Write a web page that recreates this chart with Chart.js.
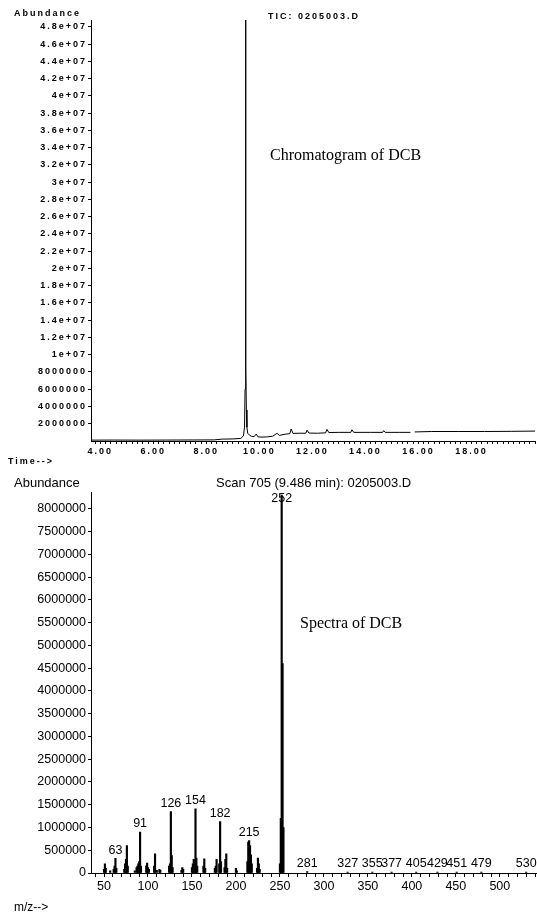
<!DOCTYPE html>
<html>
<head>
<meta charset="utf-8">
<script src="https://cdn.jsdelivr.net/npm/chart.js@4"></script>
<style>
body { margin: 0; background: #fff; }
#wrap { position: relative; width: 537px; height: 915px; overflow: hidden; }
canvas { position: absolute; left: 0; }
.t { position: absolute; white-space: nowrap; color: #000; }
.dot { font: bold 9px "Liberation Sans", Arial, sans-serif; letter-spacing: 2px; line-height: 10px; }
.reg { font: 13px "Liberation Sans", Arial, sans-serif; line-height: 16px; }
.serif { font: 16px "Liberation Serif", "Times New Roman", serif; line-height: 18px; }
</style>
</head>
<body>
<div id="wrap">
  <canvas id="chromChart" width="537" height="470" style="top:0"></canvas>
  <canvas id="specChart" width="537" height="445" style="top:470px"></canvas>

  <div class="t dot" style="left:14px;top:8px">Abundance</div>
  <div class="t dot" style="left:268px;top:11px">TIC: 0205003.D</div>
  <div class="t serif" style="left:270px;top:146px">Chromatogram of DCB</div>
  <div class="t dot" style="left:8px;top:456px">Time--&gt;</div>

  <div class="t reg" style="left:14px;top:475px">Abundance</div>
  <div class="t reg" style="left:216px;top:475px">Scan 705 (9.486 min): 0205003.D</div>
  <div class="t serif" style="left:300px;top:614px">Spectra of DCB</div>
  <div class="t reg" style="left:14px;top:899px;font-size:12px">m/z--&gt;</div>
</div>

<script>
// Chromatogram (TIC) - time in minutes, abundance
const chromTime = [3.65, 4.5, 5.5, 6.5, 7.5, 8.3, 8.6, 9.0, 9.3, 9.40, 9.44, 9.46, 9.475, 9.486,
    9.495, 9.51, 9.53, 9.56, 9.62, 9.7, 9.8, 9.88, 9.95, 10.1, 10.3, 10.5, 10.67, 10.75, 11.0,
    11.15, 11.2, 11.27, 11.5, 11.75, 11.8, 11.87, 12.2, 12.5, 12.55, 12.62, 13.0, 13.45, 13.49,
    13.56, 14.2, 14.65, 14.69, 14.75, 15.3, 15.7, 15.78, 15.86, 16.5, 17.5, 18.5, 19.5, 20.41];
const chromAbund = [1.0e5, 1.1e5, 1.0e5, 1.1e5, 1.2e5, 1.3e5, 2.2e5, 2.4e5, 3.0e5, 6.0e5, 1.6e6, 6.0e6, 1.6e7, 4.88e7,
    8.6e6, 3.6e6, 1.6e6, 9.0e5, 7.0e5, 5.5e5, 5.0e5, 8.0e5, 4.8e5, 4.5e5, 4.8e5, 5.5e5, 9.0e5, 6.5e5, 8.0e5,
    8.5e5, 1.4e6, 8.8e5, 9.0e5, 9.0e5, 1.25e6, 9.2e5, 9.0e5, 9.5e5, 1.35e6, 9.8e5, 1.0e6, 1.0e6, 1.3e6,
    1.0e6, 1.0e6, 1.0e6, 1.2e6, 1.0e6, 1.0e6, 1.0e6, null, 1.05e6, 1.1e6, 1.1e6, 1.1e6, 1.12e6, 1.15e6];
const chromLabelTimes = [4, 6, 8, 10, 12, 14, 16, 18];
const chromYTicks = [2e6, 4e6, 6e6, 8e6, 1e7, 1.2e7, 1.4e7, 1.6e7, 1.8e7, 2e7, 2.2e7, 2.4e7, 2.6e7,
    2.8e7, 3e7, 3.2e7, 3.4e7, 3.6e7, 3.8e7, 4e7, 4.2e7, 4.4e7, 4.6e7, 4.8e7];

// Mass spectrum, scan 705
const mzValues = [50, 51, 52, 57, 61, 62, 63, 64, 73, 74, 75, 76, 77, 85, 87, 88, 89, 90, 91, 92,
    98, 99, 100, 101, 107, 108, 110, 113, 114, 124, 125, 126, 127, 128, 138, 139, 140,
    150, 151, 152, 153, 154, 155, 156, 163, 164, 165, 176, 177, 178, 181, 182, 183,
    187, 188, 189, 190, 200, 201, 213, 214, 215, 216, 217, 218, 224, 225, 226, 227,
    250, 251, 252, 253, 254, 281, 327, 355, 377, 405, 429, 451, 479, 530];
const mzAbund = [8e4, 2.0e5, 1.0e5, 5e4, 8e4, 1.5e5, 3.2e5, 1.0e5, 8e4, 2.0e5, 3.0e5, 6.0e5, 1.5e5, 5e4, 1.2e5, 1.5e5, 2.0e5, 2.5e5, 9.0e5, 1.5e5,
    1.6e5, 2.2e5, 1.2e5, 8e4, 1.5e5, 4.2e5, 6e4, 8e4, 6e4, 1.5e5, 2.0e5, 1.35e6, 3.8e5, 1.2e5, 6e4, 1.2e5, 8e4,
    1.2e5, 2.0e5, 3.0e5, 2.8e5, 1.41e6, 3.3e5, 1.5e5, 1.5e5, 3.1e5, 1.0e5, 1.0e5, 1.5e5, 3.0e5, 2.0e5, 1.13e6, 2.5e5,
    1.2e5, 3.0e5, 4.2e5, 1.0e5, 1.0e5, 5e4, 2.5e5, 6.8e5, 7.1e5, 6.0e5, 4.0e5, 2.0e5, 1.0e5, 3.3e5, 2.0e5, 8e4,
    2.0e5, 1.2e6, 8.3e6, 4.6e6, 1.0e6, 3e4, 2e4, 2e4, 2e4, 2e4, 2e4, 2e4, 2e4, 2e4];
const peakLabels = [63, 91, 126, 154, 182, 215, 252, 281, 327, 355, 377, 405, 429, 451, 479, 530];
const mzLabelValues = [50, 100, 150, 200, 250, 300, 350, 400, 450, 500];
const specYTicks = [0, 5e5, 1e6, 1.5e6, 2e6, 2.5e6, 3e6, 3.5e6, 4e6, 4.5e6, 5e6, 5.5e6, 6e6,
    6.5e6, 7e6, 7.5e6, 8e6];

const smallFont = { family: "'Liberation Sans', Arial, sans-serif", size: 9, weight: 'bold' };
const specFont = { family: "'Liberation Sans', Arial, sans-serif", size: 12.5 };

// minor tick positions (every 0.2 min / every 10 m/z)
function stepTicks(from, to, step) {
    const out = [];
    for (let v = from; v <= to + 1e-9; v += step) out.push({ value: Math.round(v * 100) / 100 });
    return out;
}

// old plotter look: spaced-out letters on the top chart
const spacedText = {
    id: 'spacedText',
    beforeDraw(chart) { chart.ctx.letterSpacing = '2px'; },
    afterDraw(chart) { chart.ctx.letterSpacing = '0px'; }
};

function expLabel(v) {
    if (v >= 1e7) {
        return String(+(v / 1e7).toFixed(1)) + 'e+07';
    }
    return String(v);
}

new Chart(document.getElementById('chromChart'), {
    type: 'line',
    data: {
        datasets: [{
            data: chromTime.map((t, i) => ({ x: t, y: chromAbund[i] })),
            borderColor: '#000',
            borderWidth: 1,
            pointRadius: 0,
            tension: 0,
            spanGaps: false
        }]
    },
    options: {
        responsive: false,
        animation: false,
        layout: { padding: { top: 20, left: 0, right: 0, bottom: 0 } },
        plugins: { legend: { display: false }, tooltip: { enabled: false } },
        scales: {
            x: {
                type: 'linear',
                min: 3.647,
                max: 20.41,
                afterBuildTicks: s => { s.ticks = stepTicks(3.8, 20.4, 0.2); },
                afterFit: s => { s.height = 29; },
                border: { color: '#000', width: 1 },
                grid: { drawOnChartArea: false, tickLength: 3, tickColor: '#000' },
                ticks: {
                    autoSkip: false,
                    maxRotation: 0,
                    padding: 2,
                    color: '#000',
                    font: smallFont,
                    callback: v => {
                        const t = Math.round(v * 10) / 10;
                        return chromLabelTimes.includes(t) ? t.toFixed(2) : '';
                    }
                }
            },
            y: {
                min: 0,
                max: 4.88e7,
                afterBuildTicks: s => { s.ticks = chromYTicks.map(v => ({ value: v })); },
                afterFit: s => { s.width = 91; },
                border: { color: '#000', width: 1 },
                grid: { drawOnChartArea: false, tickLength: 3, tickColor: '#000' },
                ticks: {
                    autoSkip: false,
                    padding: 1,
                    color: '#000',
                    font: smallFont,
                    callback: v => expLabel(v)
                }
            }
        }
    },
    plugins: [spacedText]
});

// peak m/z labels above the bars
const peakLabelPlugin = {
    id: 'peakLabels',
    afterDatasetsDraw(chart) {
        const ctx = chart.ctx;
        const xs = chart.scales.x, ys = chart.scales.y;
        ctx.save();
        ctx.fillStyle = '#000';
        ctx.font = "12.5px 'Liberation Sans', Arial, sans-serif";
        ctx.textAlign = 'center';
        ctx.textBaseline = 'bottom';
        peakLabels.forEach(m => {
            const i = mzValues.indexOf(m);
            const x = xs.getPixelForValue(m);
            let y = ys.getPixelForValue(mzAbund[i]) - 2;
            y = Math.max(y, chart.chartArea.top + 13);
            ctx.fillText(String(m), x, y);
        });
        ctx.restore();
    }
};

new Chart(document.getElementById('specChart'), {
    type: 'bar',
    data: {
        datasets: [{
            data: mzValues.map((m, i) => ({ x: m, y: mzAbund[i] })),
            backgroundColor: '#000',
            borderWidth: 0,
            barThickness: 1.5
        }]
    },
    options: {
        responsive: false,
        animation: false,
        layout: { padding: { top: 22, left: 0, right: 0, bottom: 0 } },
        plugins: { legend: { display: false }, tooltip: { enabled: false } },
        scales: {
            x: {
                type: 'linear',
                offset: false,
                min: 35.2,
                max: 542,
                afterBuildTicks: s => { s.ticks = stepTicks(40, 540, 10); },
                afterFit: s => { s.height = 42; },
                border: { color: '#000', width: 1 },
                grid: { drawOnChartArea: false, offset: false, tickLength: 4, tickColor: '#000' },
                ticks: {
                    autoSkip: false,
                    maxRotation: 0,
                    padding: 2,
                    color: '#000',
                    font: specFont,
                    callback: v => mzLabelValues.includes(Math.round(v)) ? String(Math.round(v)) : ''
                }
            },
            y: {
                min: 0,
                max: 8.37e6,
                afterBuildTicks: s => { s.ticks = specYTicks.map(v => ({ value: v })); },
                afterFit: s => { s.width = 91; },
                border: { color: '#000', width: 1 },
                grid: { drawOnChartArea: false, tickLength: 3, tickColor: '#000' },
                ticks: {
                    autoSkip: false,
                    padding: 2,
                    color: '#000',
                    font: specFont,
                    callback: v => String(v)
                }
            }
        }
    },
    plugins: [peakLabelPlugin]
});
</script>
</body>
</html>
